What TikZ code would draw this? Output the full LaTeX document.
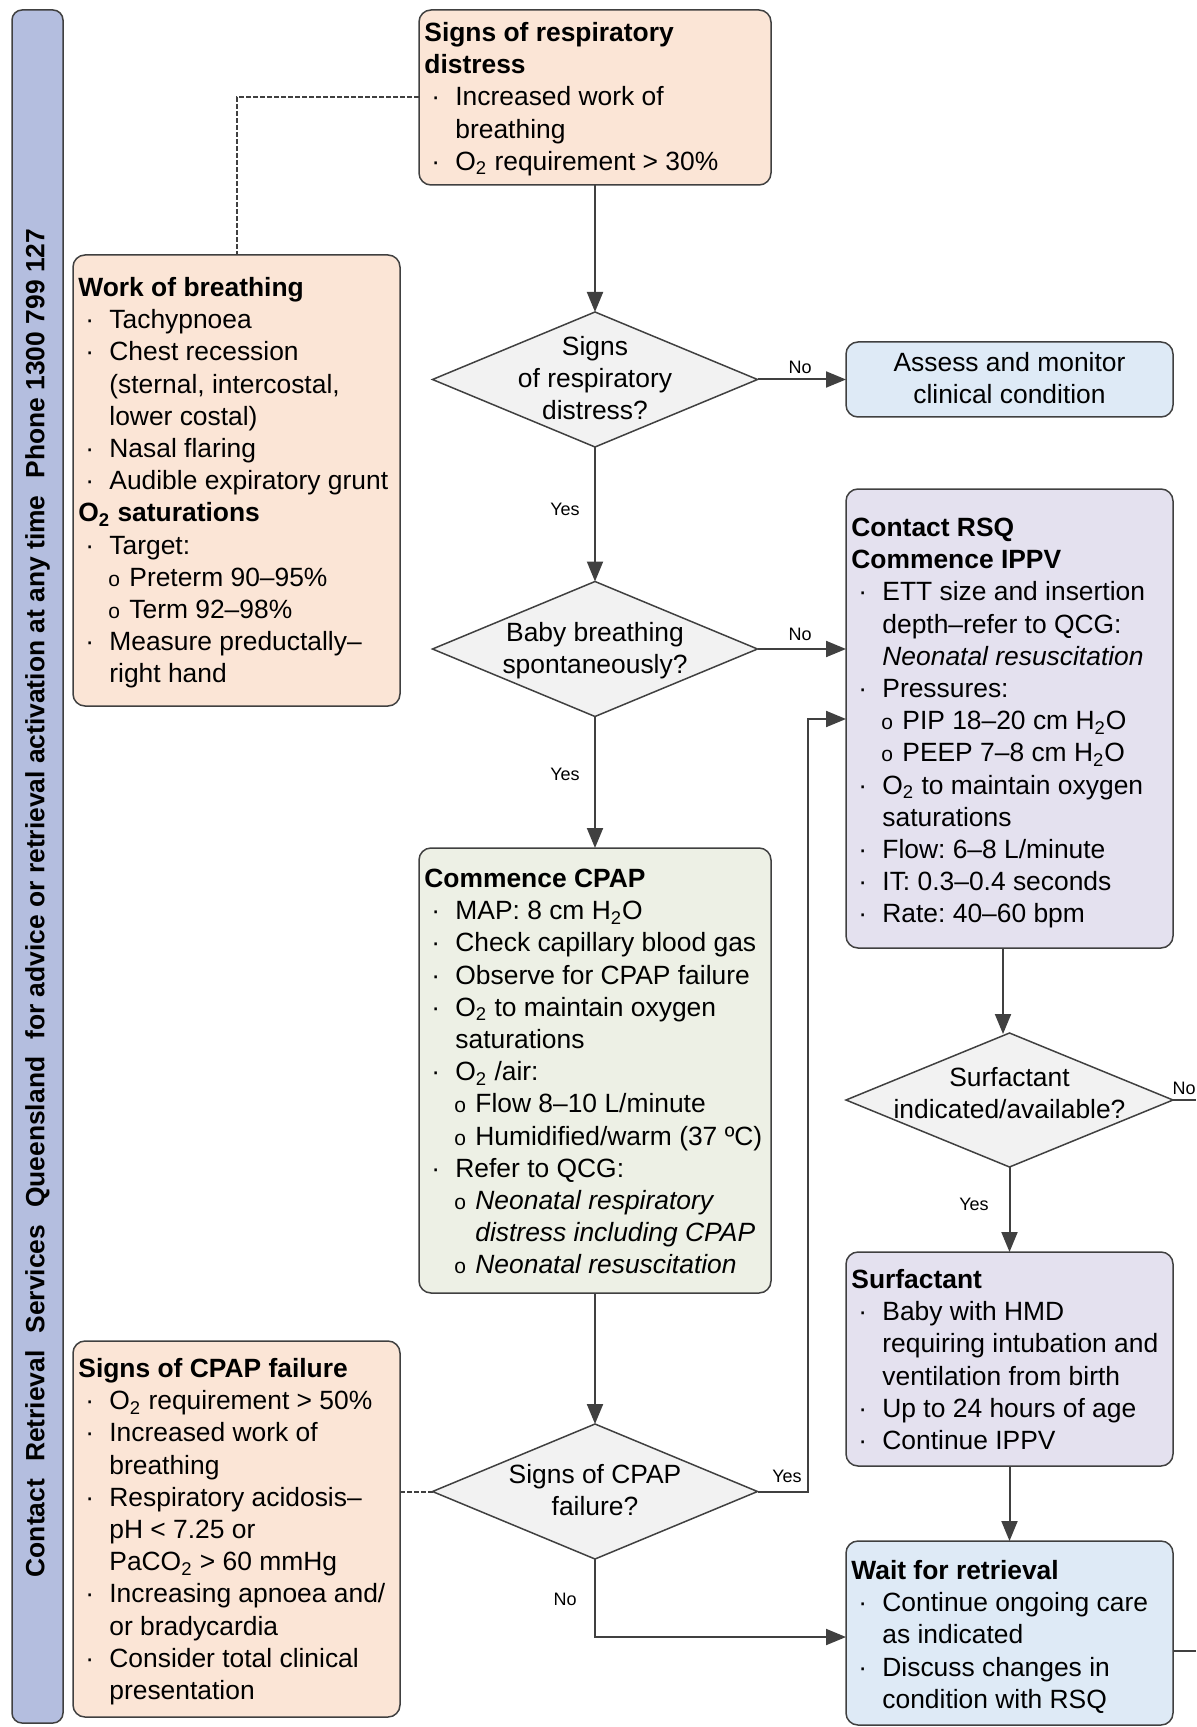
\documentclass[tikz,border=0pt]{standalone}
\usepackage{fontspec}
\setmainfont{Liberation Sans}
\usetikzlibrary{shapes.geometric,arrows.meta,fit}

\definecolor{linec}{RGB}{64,64,64}
\definecolor{peach}{RGB}{251,229,214}
\definecolor{paleblue}{RGB}{222,234,246}
\definecolor{palepurple}{RGB}{228,225,239}
\definecolor{palegreen}{RGB}{237,240,229}
\definecolor{dgray}{RGB}{242,242,242}
\definecolor{sidebar}{RGB}{180,190,223}

\frenchspacing
\newcommand\fttl[1]{\strut\textbf{#1}}
\newcommand\fbl[1]{\strut\makebox[15.5pt][l]{\hspace{3.5pt}·}#1}
\newcommand\fcl[1]{\strut\hspace*{15.5pt}#1}
\newcommand\fsb[1]{\strut\hspace*{15pt}\makebox[10.5pt][l]{\fontsize{10.5}{12}\selectfont o}#1}
\newcommand\fsc[1]{\strut\hspace*{25.5pt}#1}
\newcommand\Otwo{O\textsubscript{2}}

\begin{document}
\begin{tikzpicture}[x=0.5pt,y=-0.5pt,
  bx/.style={draw=linec, line width=0.75pt, rounded corners=6pt, inner sep=0pt, outer sep=0pt},
  dm/.style={diamond, draw=linec, fill=dgray, line width=0.75pt, inner sep=0pt, outer sep=0pt, minimum width=162.5pt, minimum height=67.5pt},
  tx/.style={inner sep=0pt, align=left, anchor=north west, font=\fontsize{13.2}{16.1}\selectfont},
  ctx/.style={inner sep=0pt, align=center, font=\fontsize{13.2}{16.1}\selectfont},
  lab/.style={inner sep=0pt, font=\fontsize{9}{11}\selectfont},
  arr/.style={draw=linec, line width=1pt, -{Triangle[length=10pt,width=8pt]}},
  ln/.style={draw=linec, line width=1pt},
  dotl/.style={draw=linec, line width=1pt, dash pattern=on 2.3pt off 1.2pt}]
\useasboundingbox (0,0) rectangle (1196,1727);

% sidebar
\node[bx, fill=sidebar, rounded corners=5pt, fit={(12,10)(63,1723)}] (side) {};
\node[rotate=90, inner sep=0pt, font=\bfseries\fontsize{13.2}{16}\selectfont] (sidet) at (37.5,903)
 {Contact\hspace{8.5pt}Retrieval\hspace{8.5pt}Services\hspace{8.5pt}Queensland\hspace{8.5pt}for advice or retrieval activation at any time\hspace{8.5pt}Phone 1300 799 127};

% boxes
\node[bx, fill=peach, fit={(419,10)(771,185)}] (srd) {};
\node[tx] (srdt) at (424,18.5) {\fttl{Signs of respiratory}\\\fttl{distress}\\\fbl{Increased work of}\\\fcl{breathing}\\\fbl{\Otwo{} requirement > 30\%}};

\node[bx, fill=peach, fit={(73,255)(400,706)}] (wob) {};
\node[tx] (wobt) at (78,273.5) {\fttl{Work of breathing}\\\fbl{Tachypnoea}\\\fbl{Chest recession}\\\fcl{(sternal, intercostal,}\\\fcl{lower costal)}\\\fbl{Nasal flaring}\\\fbl{Audible expiratory grunt}\\\fttl{O\textsubscript{2} saturations}\\\fbl{Target:}\\\fsb{Preterm 90–95\%}\\\fsb{Term 92–98\%}\\\fbl{Measure preductally–}\\\fcl{right hand}};

\node[bx, fill=paleblue, fit={(846,342)(1173,417)}] (assess) {};
\node[ctx] (assesst) at (1009.5,381) {\strut Assess and monitor\\\strut clinical condition};

\node[bx, fill=palepurple, fit={(846,489)(1173,948)}] (ippv) {};
\node[tx] (ippvt) at (851,513.5) {\fttl{Contact RSQ}\\\fttl{Commence IPPV}\\\fbl{ETT size and insertion}\\\fcl{depth–refer to QCG:}\\\fcl{\textit{Neonatal resuscitation}}\\\fbl{Pressures:}\\\fsb{PIP 18–20 cm H\textsubscript{2}O}\\\fsb{PEEP 7–8 cm H\textsubscript{2}O}\\\fbl{\Otwo{} to maintain oxygen}\\\fcl{saturations}\\\fbl{Flow: 6–8 L/minute}\\\fbl{IT: 0.3–0.4 seconds}\\\fbl{Rate: 40–60 bpm}};

\node[bx, fill=palegreen, fit={(419,848)(771,1293)}] (cpap) {};
\node[tx] (cpapt) at (424,864.5) {\fttl{Commence CPAP}\\\fbl{MAP: 8 cm H\textsubscript{2}O}\\\fbl{Check capillary blood gas}\\\fbl{Observe for CPAP failure}\\\fbl{\Otwo{} to maintain oxygen}\\\fcl{saturations}\\\fbl{\Otwo{} /air:}\\\fsb{Flow 8–10 L/minute}\\\fsb{Humidified/warm (37 ºC)}\\\fbl{Refer to QCG:}\\\fsb{\textit{Neonatal respiratory}}\\\fsc{\textit{distress including CPAP}}\\\fsb{\textit{Neonatal resuscitation}}};

\node[bx, fill=peach, fit={(73,1341)(400,1717)}] (cfail) {};
\node[tx] (cfailt) at (78,1354.5) {\fttl{Signs of CPAP failure}\\\fbl{\Otwo{} requirement > 50\%}\\\fbl{Increased work of}\\\fcl{breathing}\\\fbl{Respiratory acidosis–}\\\fcl{pH < 7.25 or}\\\fcl{PaCO\textsubscript{2} > 60 mmHg}\\\fbl{Increasing apnoea and/}\\\fcl{or bradycardia}\\\fbl{Consider total clinical}\\\fcl{presentation}};

\node[bx, fill=palepurple, fit={(846,1252)(1173,1466)}] (surf) {};
\node[tx] (surft) at (851,1265.5) {\fttl{Surfactant}\\\fbl{Baby with HMD}\\\fcl{requiring intubation and}\\\fcl{ventilation from birth}\\\fbl{Up to 24 hours of age}\\\fbl{Continue IPPV}};

\node[bx, fill=paleblue, fit={(846,1541)(1173,1725)}] (wait) {};
\node[tx] (waitt) at (851,1556.5) {\fttl{Wait for retrieval}\\\fbl{Continue ongoing care}\\\fcl{as indicated}\\\fbl{Discuss changes in}\\\fcl{condition with RSQ}};

% diamonds
\node[dm] (d1) at (595,379.5) {};
\node[ctx] (d1t) at (595,381) {\strut Signs\\\strut of respiratory\\\strut distress?};
\node[dm] (d2) at (595,649) {};
\node[ctx] (d2t) at (595,651) {\strut Baby breathing\\\strut spontaneously?};
\node[dm] (d3) at (595,1491.5) {};
\node[ctx] (d3t) at (595,1493) {\strut Signs of CPAP\\\strut failure?};
\node[dm, minimum width=163.5pt, minimum height=67pt] (d4) at (1009.5,1100) {};
\node[ctx] (d4t) at (1009.5,1096) {\strut Surfactant\\\strut indicated/available?};

% helper coordinates
\coordinate (dtop) at (237,97);
\coordinate (yturn) at (808,719);
\coordinate (nturn) at (595,1637);
\coordinate (sfx) at (1003,948);
\coordinate (sfin) at (1003,1034);
\coordinate (redge1) at (1196,1100);
\coordinate (wline) at (1173,1651);
\coordinate (redge2) at (1196,1651);

% connectors
\draw[arr] (srd.south) -- (d1.north);
\draw[arr] (d1.east) -- (d1.east -| assess.west);
\draw[arr] (d1.south) -- (d2.north);
\draw[arr] (d2.east) -- (d2.east -| ippv.west);
\draw[arr] (d2.south) -- (d2.south |- cpap.north);
\draw[arr] (cpap.south) -- (cpap.south |- d3.north);
\draw[arr] (d3.east) -| (yturn) -- (yturn -| ippv.west);
\draw[dotl] (d3.west) -- (d3.west -| cfail.east);
\draw[arr] (d3.south) -- (nturn) -- (nturn -| wait.west);
\draw[dotl] (dtop -| srd.west) -- (dtop) -- (dtop |- wob.north);
\draw[arr] (sfx) -- (sfin);
\draw[arr] (d4.south) -- (d4.south |- surf.north);
\draw[arr] (surf.south) -- (surf.south |- wait.north);
\draw[ln] (d4.east) -- (redge1);
\draw[ln] (wline) -- (redge2);

% labels
\node[lab] (l1) at (800,367) {No};
\node[lab] (l2) at (565,509) {Yes};
\node[lab] (l3) at (800,634) {No};
\node[lab] (l4) at (565,774) {Yes};
\node[lab] (l5) at (787,1476) {Yes};
\node[lab] (l6) at (565,1599) {No};
\node[lab] (l7) at (974,1204) {Yes};
\node[lab] (l8) at (1184,1088) {No};
\end{tikzpicture}
\end{document}
